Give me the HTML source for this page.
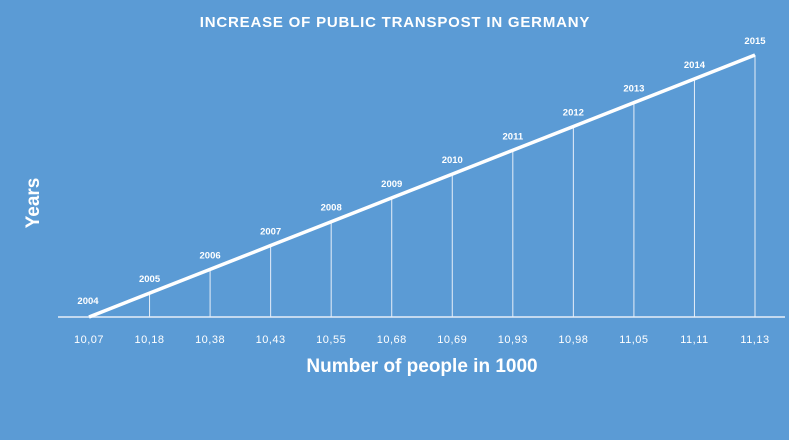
<!DOCTYPE html>
<html><head><meta charset="utf-8"><style>
html,body{margin:0;padding:0;background:#5b9bd5;}
svg{display:block;font-family:"Liberation Sans",sans-serif;}
</style></head><body>
<svg id="chart" width="789" height="440">
<rect width="789" height="440" fill="#5b9bd5"/>
<text x="395" y="27" text-anchor="middle" fill="#fff" font-size="15" font-weight="bold" letter-spacing="0.8">INCREASE OF PUBLIC TRANSPOST IN GERMANY</text>
<text transform="translate(39,203) rotate(-90)" text-anchor="middle" fill="#fff" font-size="19" font-weight="bold">Years</text>
<text x="422" y="372" text-anchor="middle" fill="#fff" font-size="19" font-weight="bold">Number of people in 1000</text>
<line x1="58" y1="317" x2="785" y2="317" stroke="#e6eef8" stroke-width="1.5"/>
<g id="marks"></g>
</svg>
<script>
const categories = ["10,07","10,18","10,38","10,43","10,55","10,68","10,69","10,93","10,98","11,05","11,11","11,13"];
const years = [2004,2005,2006,2007,2008,2009,2010,2011,2012,2013,2014,2015];
const NS = "http://www.w3.org/2000/svg";
const g = document.getElementById("marks");
const xScale = i => 89 + i * (755 - 89) / (categories.length - 1);
const yScale = v => 317 - (v - 2004) * (317 - 55) / (2015 - 2004);
function mk(tag, attrs){const e=document.createElementNS(NS,tag);for(const k in attrs)e.setAttribute(k,attrs[k]);g.appendChild(e);return e;}
categories.forEach((c,i)=>{
  const x=xScale(i), y=yScale(years[i]);
  if(i>0){
    const d=mk("line",{x1:x,y1:y,x2:x,y2:317,stroke:"#e6eef8","stroke-width":1});
    
    
  }
  const t=mk("text",{x:x,y:343,"text-anchor":"middle",fill:"#fff","font-size":11,"letter-spacing":"0.5"});
  t.textContent=c;
  
  
});
const pts=years.map((v,i)=>xScale(i)+","+yScale(v)).join(" ");
const pl=mk("polyline",{points:pts,fill:"none",stroke:"#fff","stroke-width":3.5});


years.forEach((v,i)=>{
  const t=mk("text",{x:xScale(i)-(i===0?1:0),y:yScale(v)-(i===0?13:11),"text-anchor":"middle",fill:"#fff","font-size":9.5,"font-weight":"bold"});
  t.textContent=v;
  
  
});
</script>
</body></html>
